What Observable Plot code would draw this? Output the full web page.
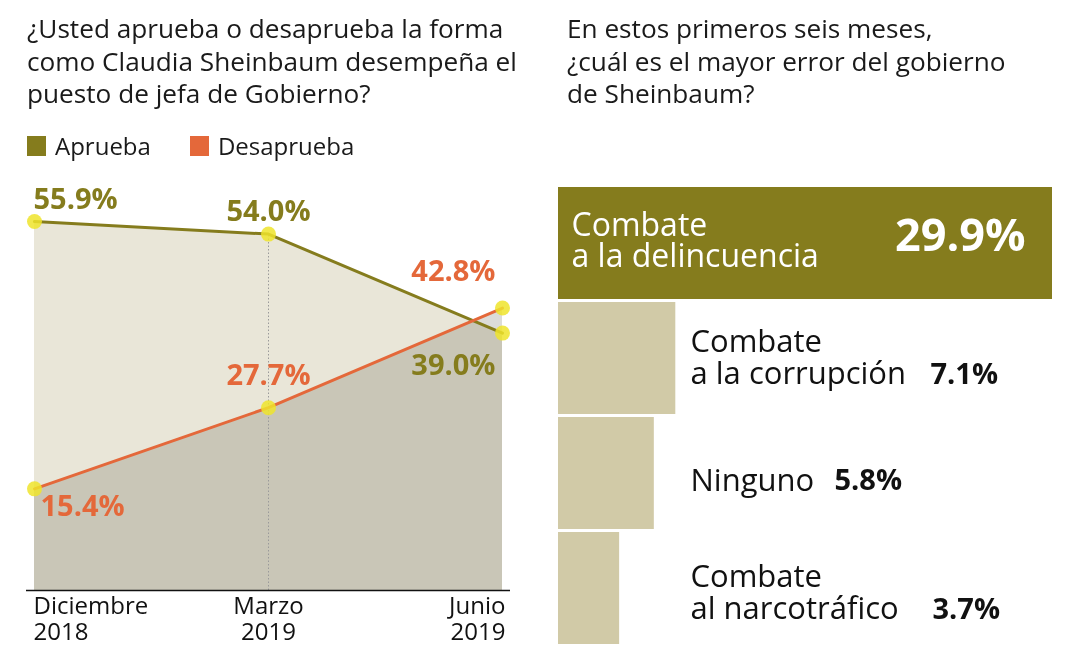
<!DOCTYPE html>
<html><head><meta charset="utf-8">
<script src="https://cdn.jsdelivr.net/npm/d3@7"></script>
<script src="https://cdn.jsdelivr.net/npm/@observablehq/plot@0.6"></script>
<style>
body{margin:0;background:#fff;font-family:"Open Sans",sans-serif;}
#wrap{position:relative;width:1081px;height:666px;overflow:hidden;background:#fff;}
.title{position:absolute;font-size:26.2px;line-height:32.5px;color:#1a1a1a;white-space:nowrap;}
.leg{position:absolute;top:129px;left:27px;font-size:24px;color:#1a1a1a;display:flex;align-items:center;}
.sw{display:inline-block;width:19px;height:20px;margin-right:9px;}
.item{display:flex;align-items:center;margin-right:39px;}
#left,#right{position:absolute;top:170px;}
#left{left:0}
#right{left:540px}
</style></head><body>
<div id="wrap">
  <div class="title" style="left:27px;top:12px">¿Usted aprueba o desaprueba la forma<br>como Claudia Sheinbaum desempeña el<br>puesto de jefa de Gobierno?</div>
  <div class="title" style="left:567px;top:12px">En estos primeros seis meses,<br>¿cuál es el mayor error del gobierno<br>de Sheinbaum?</div>
  <div class="leg" id="legend"></div>
  <div id="left"></div>
  <div id="right"></div>
</div>
<script>
// ---- data ----
const months = ["Diciembre\n2018", "Marzo\n2019", "Junio\n2019"];
const aprueba = [55.9, 54.0, 39.0];
const desaprueba = [15.4, 27.7, 42.8];
const seriesNames = ["Aprueba", "Desaprueba"];

const errores = ["Combate\na la delincuencia", "Combate\na la corrupción", "Ninguno", "Combate\nal narcotráfico"];
const erroresVal = [29.9, 7.1, 5.8, 3.7];

// ---- styles ----
const olive = "#857c1d";
const orange = "#e4683a";
const beige = "#d1caa7";
const dotYellow = "#efe42c";
const font = "'Open Sans', sans-serif";

// legend
const legendColors = [olive, orange];
document.getElementById("legend").innerHTML = seriesNames.map((s,i)=>
  `<span class="item"><span class="sw" style="background:${legendColors[i]}"></span>${s}</span>`).join("");

const rowsL = months.map((m,i)=>({m, a: aprueba[i], d: desaprueba[i]}));
const fmt = v => v.toFixed(1) + "%";

// label offsets (style)
const offA = [{dx:-1,dy:-22,anchor:"start"},{dx:0,dy:-22,anchor:"middle"},{dx:-7,dy:33,anchor:"end"}];
const offD = [{dx:6,dy:18,anchor:"start"},{dx:0,dy:-32,anchor:"middle"},{dx:-7,dy:-36,anchor:"end"}];

const labelMarks = [];
rowsL.forEach((r,i)=>{
  labelMarks.push(Plot.text([r],{x:"m", y:"a", text:d=>fmt(d.a), fill:olive, fontSize:29, fontWeight:"bold",
    textAnchor:offA[i].anchor, dx:offA[i].dx, dy:offA[i].dy}));
  labelMarks.push(Plot.text([r],{x:"m", y:"d", text:d=>fmt(d.d), fill:orange, fontSize:29, fontWeight:"bold",
    textAnchor:offD[i].anchor, dx:offD[i].dx, dy:offD[i].dy}));
});
const tickAnchors = ["start","middle","end"];
const tickDx = [-1, 0, 3];
const tickMarks = months.map((m,i)=>Plot.text([m],{x:d=>d, text:d=>d, frameAnchor:"bottom", lineAnchor:"top",
  dy:4, dx:tickDx[i], textAnchor:tickAnchors[i], fontSize:24, lineHeight:1.12, fill:"#111"}));

const left = Plot.plot({
  width:540, height:490, marginTop:24, marginBottom:70, marginLeft:34, marginRight:38,
  x:{type:"point", domain:months, axis:null, padding:0},
  y:{domain:[0,60], axis:null},
  style:{fontFamily:font, background:"transparent", overflow:"visible"},
  marks:[
    Plot.areaY(rowsL,{x:"m", y:"a", fill:"#e9e6d8", mixBlendMode:"multiply"}),
    Plot.areaY(rowsL,{x:"m", y:"d", fill:"#dcdcd8", mixBlendMode:"multiply"}),
    Plot.ruleX([rowsL[1]],{x:"m", y1:0, y2:"a", stroke:"#9a9a9a", strokeWidth:1, strokeDasharray:"1.5,2"}),
    Plot.ruleY([0],{stroke:"#111", strokeWidth:1.5, insetLeft:-8, insetRight:-8}),
    Plot.line(rowsL,{x:"m", y:"a", stroke:olive, strokeWidth:3}),
    Plot.line(rowsL,{x:"m", y:"d", stroke:orange, strokeWidth:3}),
    Plot.dot(rowsL,{x:"m", y:"a", r:7.5, fill:dotYellow, fillOpacity:0.85}),
    Plot.dot(rowsL,{x:"m", y:"d", r:7.5, fill:dotYellow, fillOpacity:0.85}),
    ...labelMarks,
    ...tickMarks
  ]
});
document.getElementById("left").appendChild(left);

const rowsR = errores.map((e,i)=>({e, v: erroresVal[i], i}));
const labDy = [-2, -1, 7, 4];
const valDx = [null, 372, 276, 374];
const valDy = [-7, 16, 7, 21];
const rightMarks = [
  Plot.barX(rowsR,{x:"v", y:"e", fill:d=> d.i===0 ? olive : beige}),
  Plot.text([rowsR[0]],{y:"e", text:"e", frameAnchor:"left", dx:13, dy:labDy[0], textAnchor:"start",
    fill:"#fff", fontSize:32, lineHeight:0.98}),
  Plot.text([rowsR[0]],{y:"e", text:d=>fmt(d.v), frameAnchor:"right", dx:-27, dy:valDy[0], textAnchor:"end",
    fill:"#fff", fontSize:45, fontWeight:"bold"})
];
rowsR.slice(1).forEach(r=>{
  rightMarks.push(Plot.text([r],{y:"e", text:"e", frameAnchor:"left", dx:132, dy:labDy[r.i], textAnchor:"start",
    fill:"#111", fontSize:31, lineHeight:1.05}));
  rightMarks.push(Plot.text([r],{y:"e", text:d=>fmt(d.v), frameAnchor:"left", dx:valDx[r.i], dy:valDy[r.i], textAnchor:"start",
    fill:"#111", fontSize:29, fontWeight:"bold"}));
});
const right = Plot.plot({
  width:540, height:480, marginTop:16, marginBottom:4, marginLeft:18, marginRight:28,
  x:{domain:[0,29.9], axis:null},
  y:{domain:errores, axis:null, paddingInner:0.025, paddingOuter:0},
  style:{fontFamily:font, background:"transparent", overflow:"visible"},
  marks: rightMarks
});
document.getElementById("right").appendChild(right);
</script>
</body></html>
